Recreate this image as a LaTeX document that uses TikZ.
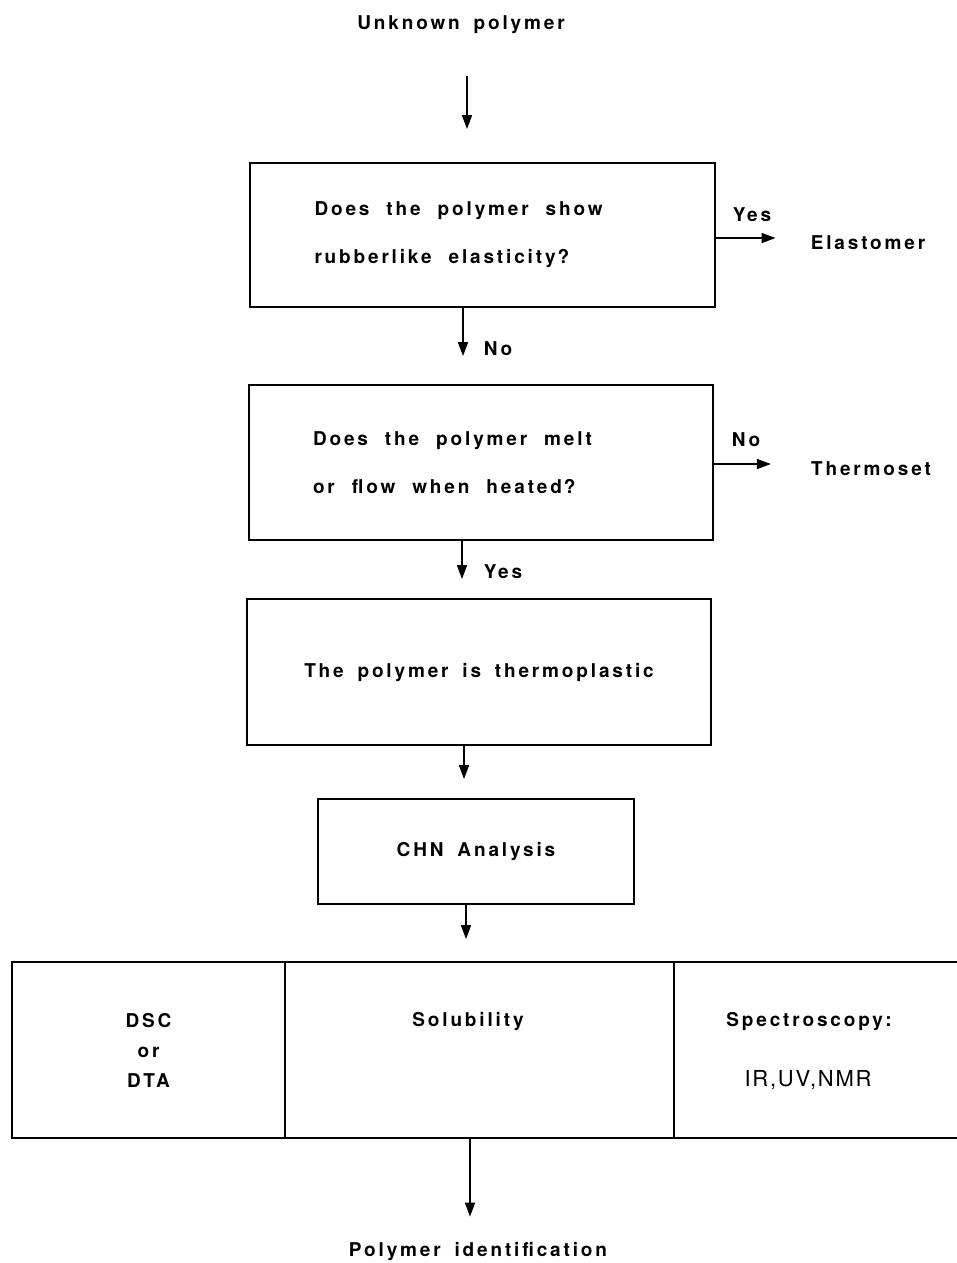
\documentclass[tikz,border=0pt]{standalone}
\usepackage{fontspec}
\newfontfamily\labfont{TeX Gyre Heros}[LetterSpace=15,WordSpace=1.7]
\newfontfamily\plainfont{TeX Gyre Heros}[LetterSpace=8]
\usetikzlibrary{arrows.meta}
\begin{document}
\begin{tikzpicture}[x=1pt,y=-1pt,
  lab/.style={font=\labfont\bfseries\fontsize{19}{30}\selectfont, inner sep=0pt},
  qbox/.style={draw, line width=1.8pt,
    font=\labfont\bfseries\fontsize{19}{48}\selectfont,
    execute at begin node={\spaceskip=17pt\relax},
    align=left, inner ysep=0pt},
  cbox/.style={draw, line width=1.8pt, font=\labfont\bfseries\fontsize{19}{30}\selectfont,
    align=center, inner sep=0pt},
  arr/.style={line width=1.6pt, -{Triangle[length=14pt,width=10pt]}},
]
\useasboundingbox (0,0) rectangle (956,1263);
\fill[white] (0,0) rectangle (956,1263);

% texts outside boxes
\node[lab] (top) at (461,25) {Unknown polymer};
\node[lab] (elast) at (868,243) {Elastomer};
\node[lab] (thermo) at (871,469) {Thermoset};
\node[lab] (ident) at (478,1251) {Polymer identification};

% boxes
\node[qbox, text width=336pt, inner xsep=64.5pt, minimum height=144pt] (b1) at (482.5,235)
  {Does the polymer show\\rubberlike elasticity\kern2pt?};
\node[qbox, text width=336pt, inner xsep=64pt, minimum height=155pt] (b2) at (481,462.5)
  {Does the polymer melt\\or flow when heated\kern2pt?};
\node[cbox, minimum width=464pt, minimum height=146pt] (b3) at (479,672)
  {The polymer is thermoplastic};
\node[cbox, minimum width=316pt, minimum height=105pt] (b4) at (476,851.5)
  {CHN Analysis};

% bottom row
\node[cbox, minimum width=273pt, minimum height=176pt] (dsc) at (148.5,1050)
  {DSC\\or\\DTA};
\node[cbox, minimum width=389pt, minimum height=176pt] (sol) at (479.5,1050) {};
\node[cbox, minimum width=284pt, minimum height=176pt] (spec) at (816,1050) {};
\node[lab] (soltxt) at (468,1021) {Solubility};
\node[lab] (spectxt) at (809,1022) {Spectroscopy:};
\node[font=\plainfont\fontsize{22}{24}\selectfont, inner sep=0pt] (ir) at (808,1080) {IR,UV,NMR};

% connector x positions
\coordinate (x1) at (467,0);
\coordinate (x2) at (463,0);
\coordinate (x3) at (462,0);
\coordinate (x4) at (464,0);
\coordinate (x5) at (466,0);
\coordinate (x6) at (470,0);
\coordinate (y1) at (0,238);
\coordinate (y2) at (0,464);

% arrows
\draw[arr, shorten <=42pt, shorten >=33pt] (top.south -| x1) -- (b1.north -| x1);
\draw[arr, shorten >=28pt] (b1.south -| x2) -- (b2.north -| x2);
\draw[arr, shorten >=19pt] (b2.south -| x3) -- (b3.north -| x3);
\draw[arr, shorten >=19pt] (b3.south -| x4) -- (b4.north -| x4);
\draw[arr, shorten >=22pt] (b4.south -| x5) -- (sol.north -| x5);
\draw[arr, shorten >=25pt] (sol.south -| x6) -- (ident.north -| x6);
\draw[arr, shorten >=35pt] (b1.east |- y1) -- (elast.west |- y1);
\draw[arr, shorten >=40pt] (b2.east |- y2) -- (thermo.west |- y2);

% arrow labels
\node[lab] (yes1) at (752,215) {Yes};
\node[lab] (no1) at (498,349) {No};
\node[lab] (no2) at (746,440) {No};
\node[lab] (yes2) at (503,572) {Yes};
\end{tikzpicture}
\end{document}
